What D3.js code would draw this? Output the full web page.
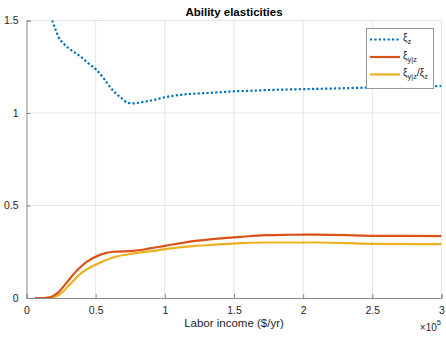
<!DOCTYPE html>
<html>
<head>
<meta charset="utf-8">
<script src="https://cdn.jsdelivr.net/npm/d3@7"></script>
<style>
  html, body { margin: 0; padding: 0; background: #fff; }
  svg { display: block; font-family: "Liberation Sans", Arial, Helvetica, sans-serif; }
</style>
</head>
<body>
<svg id="chart" width="446" height="337"></svg>
<script>
// Labor income ($/yr) and ability elasticities
const incomeZ   = [16000, 18600, 20600, 23000, 26600, 31400, 38700, 44700, 50700, 55500, 60300, 64000, 67600, 73600, 77200, 84400, 91600, 101300, 113300, 125400, 137400, 149400, 161500, 173600, 195200, 225000, 250000, 275000, 300000];
const xiZ       = [1.57, 1.5, 1.459, 1.413, 1.377, 1.345, 1.308, 1.269, 1.232, 1.19, 1.142, 1.11, 1.087, 1.055, 1.052, 1.06, 1.07, 1.087, 1.1, 1.106, 1.111, 1.117, 1.12, 1.124, 1.128, 1.133, 1.138, 1.142, 1.146];

const incomeY   = [6100, 12000, 17000, 23000, 29000, 36300, 43500, 53100, 62700, 77200, 89200, 100000, 118100, 136200, 154300, 172300, 190400, 210000, 250000, 300000];
const xiYZ      = [0, 0, 0.004, 0.03, 0.083, 0.147, 0.195, 0.233, 0.25, 0.255, 0.268, 0.282, 0.305, 0.32, 0.33, 0.34, 0.342, 0.343, 0.336, 0.335];

const incomeR   = [6100, 12000, 18000, 24200, 31400, 38700, 50700, 62700, 77200, 89200, 100000, 118100, 136200, 154300, 172300, 190400, 210000, 250000, 300000];
const xiRatio   = [0, 0, 0.003, 0.02, 0.074, 0.129, 0.183, 0.219, 0.241, 0.252, 0.264, 0.279, 0.288, 0.297, 0.3, 0.3, 0.3, 0.293, 0.291];

const xTicks = [0, 50000, 100000, 150000, 200000, 250000, 300000];
const xTickLabels = ["0", "0.5", "1", "1.5", "2", "2.5", "3"];
const yTicks = [0, 0.5, 1, 1.5];
const yTickLabels = ["0", "0.5", "1", "1.5"];

const colors = { z: "#0072BD", yz: "#D95319", ratio: "#EDB120" };

const svg = d3.select("#chart");
const plotLeft = 26.5, plotRight = 441.5, plotTop = 20.5, plotBottom = 298;

const x = d3.scaleLinear().domain([0, 300000]).range([plotLeft, plotRight]);
const y = d3.scaleLinear().domain([0, 1.5]).range([plotBottom, plotTop]);

// grid
const grid = svg.append("g").attr("stroke", "#e4e4e4").attr("stroke-width", 1);
xTicks.slice(1).forEach(t => grid.append("line")
  .attr("x1", x(t)).attr("x2", x(t)).attr("y1", plotTop).attr("y2", plotBottom));
yTicks.slice(1).forEach(t => grid.append("line")
  .attr("x1", plotLeft).attr("x2", plotRight).attr("y1", y(t)).attr("y2", y(t)));

// axes
const xAxis = d3.axisBottom(x).tickValues(xTicks).tickSize(-4).tickPadding(9)
  .tickFormat((d, i) => xTickLabels[i]);
const yAxis = d3.axisLeft(y).tickValues(yTicks).tickSize(-4).tickPadding(8)
  .tickFormat((d, i) => yTickLabels[i]);

const gx = svg.append("g").attr("transform", `translate(0,${plotBottom})`).call(xAxis);
const gy = svg.append("g").attr("transform", `translate(${plotLeft},0)`).call(yAxis);
[gx, gy].forEach(g => {
  g.select(".domain").attr("stroke", "#8a8a8a").attr("stroke-width", 1);
  g.selectAll(".tick line").attr("stroke", "#8a8a8a");
  g.selectAll(".tick text").attr("fill", "#262626").attr("font-size", 10.5)
    .attr("font-family", "Liberation Sans, Arial, sans-serif");
});

// clip region for the plot
svg.append("clipPath").attr("id", "plotClip").append("rect")
  .attr("x", plotLeft).attr("y", plotTop).attr("width", plotRight - plotLeft).attr("height", plotBottom - plotTop);

const line = d3.line().x(d => x(d[0])).y(d => y(d[1])).curve(d3.curveMonotoneX);
const plot = svg.append("g").attr("clip-path", "url(#plotClip)").attr("fill", "none");

plot.append("path").datum(d3.zip(incomeR, xiRatio)).attr("d", line)
  .attr("stroke", colors.ratio).attr("stroke-width", 2.2).attr("stroke-linejoin", "round");
plot.append("path").datum(d3.zip(incomeY, xiYZ)).attr("d", line)
  .attr("stroke", colors.yz).attr("stroke-width", 2.2).attr("stroke-linejoin", "round");
plot.append("path").datum(d3.zip(incomeZ, xiZ)).attr("d", line)
  .attr("stroke", colors.z).attr("stroke-width", 2.2).attr("stroke-dasharray", "2.2 2.2");

// title and labels
svg.append("text").attr("x", (plotLeft + plotRight) / 2).attr("y", 16).attr("text-anchor", "middle")
  .attr("font-size", 11.5).attr("font-weight", "bold").attr("fill", "#000").text("Ability elasticities");
svg.append("text").attr("x", (plotLeft + plotRight) / 2).attr("y", 327).attr("text-anchor", "middle")
  .attr("font-size", 11.5).attr("fill", "#262626").text("Labor income ($/yr)");

const exp = svg.append("text").attr("x", 441).attr("y", 331).attr("text-anchor", "end")
  .attr("font-size", 10).attr("fill", "#262626");
exp.append("tspan").text("\u00d710");
exp.append("tspan").attr("dy", -6).attr("font-size", 7.5).text("5");

// legend
const lg = svg.append("g");
lg.append("rect").attr("x", 366.5).attr("y", 28.5).attr("width", 67).attr("height", 60)
  .attr("fill", "#fff").attr("stroke", "#999").attr("stroke-width", 1);

const entries = [
  { color: colors.z, dash: "2.2 2.2", yy: 39.5, parts: [["\u03be", 0], ["z", 1]] },
  { color: colors.yz, dash: null, yy: 57, parts: [["\u03be", 0], ["y|z", 1]] },
  { color: colors.ratio, dash: null, yy: 74.5, parts: [["\u03be", 0], ["y|z", 1], ["/\u03be", 0], ["z", 1]] }
];
entries.forEach(e => {
  const ln = lg.append("line").attr("x1", 370).attr("x2", 400).attr("y1", e.yy).attr("y2", e.yy)
    .attr("stroke", e.color).attr("stroke-width", 2.2);
  if (e.dash) ln.attr("stroke-dasharray", e.dash);
  const t = lg.append("text").attr("x", 403).attr("y", e.yy + 1.5).attr("font-size", 10)
    .attr("fill", "#262626");
  let sub = false;
  e.parts.forEach(([s, isSub]) => {
    const ts = t.append("tspan").text(s);
    if (isSub && !sub) { ts.attr("dy", 3).attr("font-size", 7.5); sub = true; }
    else if (isSub) { ts.attr("font-size", 7.5); }
    else if (sub) { ts.attr("dy", -3); sub = false; }
  });
});
</script>
</body>
</html>
